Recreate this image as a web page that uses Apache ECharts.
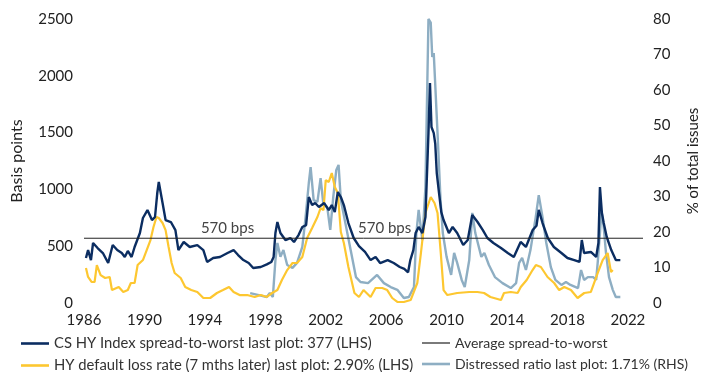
<!DOCTYPE html>
<html>
<head>
<meta charset="utf-8">
<script src="https://cdn.jsdelivr.net/npm/echarts@6/dist/echarts.min.js"></script>
<style>html,body{margin:0;padding:0;background:#fff}#c{width:711px;height:372px}</style>
</head>
<body>
<div id="c"></div>
<script>
// ---- DATA ----
const xTickYears = [1986, 1990, 1994, 1998, 2002, 2006, 2010, 2014, 2018, 2022];
const averageSpread = 570;

const spreadYears = [1986.13,1986.27,1986.46,1986.6,1986.9,1987.25,1987.6,1987.9,1988.2,1988.5,1988.7,1988.9,1989.15,1989.35,1989.7,1989.9,1990.2,1990.5,1990.7,1990.85,1990.95,1991.05,1991.2,1991.4,1991.75,1992.05,1992.25,1992.6,1993.0,1993.5,1993.9,1994.15,1994.55,1995.0,1995.5,1995.9,1996.2,1996.55,1996.9,1997.2,1997.7,1998.1,1998.4,1998.55,1998.67,1998.8,1999.0,1999.33,1999.66,1999.9,2000.2,2000.45,2000.7,2000.88,2001.1,2001.3,2001.55,2001.9,2002.2,2002.4,2002.6,2002.8,2003.0,2003.2,2003.5,2003.85,2004.2,2004.6,2004.97,2005.3,2005.6,2006.1,2006.5,2006.9,2007.2,2007.45,2007.6,2007.8,2007.95,2008.15,2008.4,2008.6,2008.8,2008.9,2009.0,2009.15,2009.25,2009.35,2009.5,2009.65,2009.8,2010.15,2010.4,2010.7,2011.1,2011.4,2011.7,2012.05,2012.4,2012.7,2013.1,2013.6,2014.05,2014.45,2014.9,2015.25,2015.7,2015.95,2016.1,2016.35,2016.7,2017.1,2017.6,2018.0,2018.45,2018.8,2018.95,2019.1,2019.55,2019.9,2020.05,2020.15,2020.28,2020.4,2020.6,2020.9,2021.2,2021.5];
const spreadValues = [396,466,378,528,484,440,352,510,466,440,405,458,405,493,616,748,818,730,757,968,1065,1056,880,730,713,642,466,537,493,510,466,361,396,405,440,466,422,378,352,308,317,340,361,405,616,713,616,554,572,537,598,669,686,933,862,880,845,880,818,862,800,977,933,862,704,572,500,450,378,405,352,378,352,317,300,270,378,466,616,669,616,757,1496,1936,1549,1496,1400,1144,968,800,730,616,669,616,510,554,774,713,642,572,528,484,440,405,537,493,642,680,820,704,572,493,440,396,378,361,554,440,449,405,528,1021,792,704,581,466,378,377];

const lossYears = [1986.13,1986.27,1986.5,1986.7,1986.85,1987.1,1987.4,1987.7,1987.85,1988.3,1988.6,1988.9,1989.1,1989.35,1989.55,1989.9,1990.15,1990.4,1990.6,1990.8,1990.95,1991.2,1991.4,1991.6,1991.8,1992.0,1992.4,1992.7,1993.1,1993.5,1993.9,1994.35,1994.8,1995.2,1995.6,1995.9,1996.3,1996.8,1997.3,1997.7,1998.1,1998.45,1998.8,1999.1,1999.45,1999.8,2000.1,2000.45,2000.77,2001.1,2001.45,2001.66,2001.85,2002.0,2002.2,2002.4,2002.6,2002.8,2003.0,2003.2,2003.5,2003.9,2004.2,2004.5,2004.97,2005.3,2005.74,2006.07,2006.4,2006.74,2007.17,2007.62,2008.06,2008.3,2008.6,2008.95,2009.2,2009.4,2009.6,2009.8,2010.05,2010.7,2011.5,2012.04,2012.48,2012.9,2013.6,2013.8,2014.25,2014.7,2014.91,2015.3,2015.69,2015.91,2016.24,2016.68,2017.12,2017.45,2017.79,2018.23,2018.67,2019.11,2019.55,2020.0,2020.33,2020.66,2020.88,2021.0];
const lossValues = [308,229,185,185,334,246,220,229,114,141,97,114,176,176,334,378,466,554,669,757,748,704,642,493,352,264,220,141,114,97,44,44,88,114,141,97,70,70,53,70,53,88,114,202,290,352,352,405,572,660,757,836,818,1082,1065,1144,1021,968,625,528,317,88,53,114,53,132,132,114,44,9,9,26,176,440,792,933,880,792,466,114,70,88,97,97,88,53,26,88,97,88,141,202,290,334,317,229,176,114,141,114,44,88,97,264,378,440,273,290];

const distressYears = [1997.0,1997.5,1998.1,1998.3,1998.5,1998.67,1998.8,1999.0,1999.2,1999.45,1999.8,2000.1,2000.45,2000.66,2000.88,2001.0,2001.2,2001.45,2001.66,2001.85,2002.1,2002.3,2002.5,2002.7,2002.85,2003.0,2003.3,2003.65,2004.0,2004.3,2004.8,2005.4,2005.85,2006.3,2006.74,2007.17,2007.5,2007.84,2008.0,2008.15,2008.4,2008.6,2008.8,2008.95,2009.05,2009.15,2009.4,2009.6,2009.75,2010.0,2010.3,2010.5,2010.7,2011.0,2011.2,2011.5,2011.7,2011.9,2012.3,2012.5,2012.8,2013.2,2013.7,2014.25,2014.6,2014.8,2015.0,2015.25,2015.55,2015.9,2016.1,2016.35,2016.6,2016.9,2017.2,2017.6,2017.9,2018.2,2018.7,2018.9,2019.1,2019.35,2019.7,2019.9,2020.0,2020.15,2020.25,2020.4,2020.55,2020.75,2021.0,2021.2,2021.5];
const distressValues = [2.8,2.3,1.7,2.8,1.7,12.1,16.9,13.0,14.9,10.7,9.9,11.3,15.8,23.9,33.8,38.3,29.0,28.5,35.2,27.6,27.0,20.6,29.9,37.5,38.9,29.0,22.5,14.9,7.3,5.9,5.6,7.9,5.6,4.5,3.7,1.4,1.7,4.5,19.7,26.2,17.7,32.7,80,79,69.3,70.4,47.9,29,19.7,13.0,7.9,14.1,11.3,6.5,4.5,12.1,25.4,19.7,13.0,14.1,10.7,7.3,5.6,4.2,5.6,11.3,12.7,9.3,14.9,24.2,30.4,24.2,16.9,10.1,6.5,5.1,5.9,5.1,4.2,9.3,6.5,7.3,7.3,6.5,11.3,19.7,26,21.4,14.1,7.3,3.7,1.7,1.71];

const names = {
  spread: 'CS HY Index spread-to-worst last plot: 377 (LHS)',
  avg: 'Average spread-to-worst',
  loss: 'HY default loss rate (7 mths later) last plot: 2.90% (LHS)',
  distress: 'Distressed ratio last plot: 1.71% (RHS)'
};

// ---- CHART ----
const zip = (xs, ys) => xs.map((x, i) => [x, ys[i]]);
const FONT = 'Lato';
const THICK = 'path://M0 0H28V2.6H0Z';
const THIN = 'path://M0 0H28V1.2H0Z';
const chart = echarts.init(document.getElementById('c'), null, {renderer: 'canvas'});
chart.setOption({
  animation: false,
  backgroundColor: '#ffffff',
  textStyle: {fontFamily: FONT},
  grid: {left: 84, right: 68, top: 19, bottom: 69},
  xAxis: {
    type: 'value', min: 1986, max: 2023, interval: 4,
    axisLine: {show: false}, axisTick: {show: false}, splitLine: {show: false},
    axisLabel: {
      fontFamily: FONT, fontSize: 15, color: '#222', margin: 10,
      formatter: v => (xTickYears.indexOf(v) >= 0 ? String(v) : '')
    }
  },
  yAxis: [
    {
      type: 'value', min: 0, max: 2500, interval: 500, position: 'left',
      name: 'Basis points', nameLocation: 'middle', nameRotate: 90, nameGap: 59,
      nameTextStyle: {fontFamily: FONT, fontSize: 16, color: '#222'},
      axisLine: {show: false}, axisTick: {show: false}, splitLine: {show: false},
      axisLabel: {fontFamily: FONT, fontSize: 15, color: '#222', margin: 11, formatter: v => String(v)}
    },
    {
      type: 'value', min: 0, max: 80, interval: 10, position: 'right',
      name: '% of total issues', nameLocation: 'middle', nameRotate: 90, nameGap: 43,
      nameTextStyle: {fontFamily: FONT, fontSize: 15, color: '#222'},
      axisLine: {show: false}, axisTick: {show: false}, splitLine: {show: false},
      axisLabel: {fontFamily: FONT, fontSize: 15, color: '#222', margin: 10, formatter: v => String(v)}
    }
  ],
  legend: [
    {
      orient: 'vertical', left: 21, top: 336, height: 60, padding: 0, itemGap: 7,
      itemWidth: 28, itemHeight: 14, itemTextGap: 3,
      textStyle: {fontFamily: FONT, fontSize: 14.8, lineHeight: 14, color: '#333'},
      data: [{name: names.spread, icon: THICK}, {name: names.loss, icon: THICK}]
    },
    {
      orient: 'vertical', left: 422, top: 336, height: 60, padding: 0, itemGap: 7,
      itemWidth: 28, itemHeight: 14, itemTextGap: 3,
      textStyle: {fontFamily: FONT, fontSize: 14, lineHeight: 14, color: '#333'},
      data: [{name: names.avg, icon: THIN}, {name: names.distress, icon: THICK}]
    }
  ],
  series: [
    {
      name: names.distress, type: 'line', yAxisIndex: 1, symbol: 'none',
      data: zip(distressYears, distressValues),
      lineStyle: {color: '#8eaec3', width: 2.4}, itemStyle: {color: '#8eaec3'}, z: 2
    },
    {
      name: names.loss, type: 'line', yAxisIndex: 0, symbol: 'none',
      data: zip(lossYears, lossValues),
      lineStyle: {color: '#fdc730', width: 2.2}, itemStyle: {color: '#fdc730'}, z: 3
    },
    {
      name: names.spread, type: 'line', yAxisIndex: 0, symbol: 'none',
      data: zip(spreadYears, spreadValues),
      lineStyle: {color: '#0b2d61', width: 2.4}, itemStyle: {color: '#0b2d61'}, z: 4
    },
    {
      name: names.avg, type: 'line', yAxisIndex: 0, symbol: 'none',
      data: [[1986, averageSpread], [2023, averageSpread]],
      lineStyle: {color: '#222', width: 1}, itemStyle: {color: '#222'}, z: 5,
      markPoint: {
        symbol: 'circle', symbolSize: 0,
        label: {
          show: true, position: 'top', distance: 3,
          formatter: averageSpread + ' bps',
          fontFamily: FONT, fontSize: 15, color: '#444'
        },
        data: [
          {coord: [1995.5, averageSpread]},
          {coord: [2005.9, averageSpread]}
        ]
      }
    }
  ]
});
</script>
</body>
</html>
